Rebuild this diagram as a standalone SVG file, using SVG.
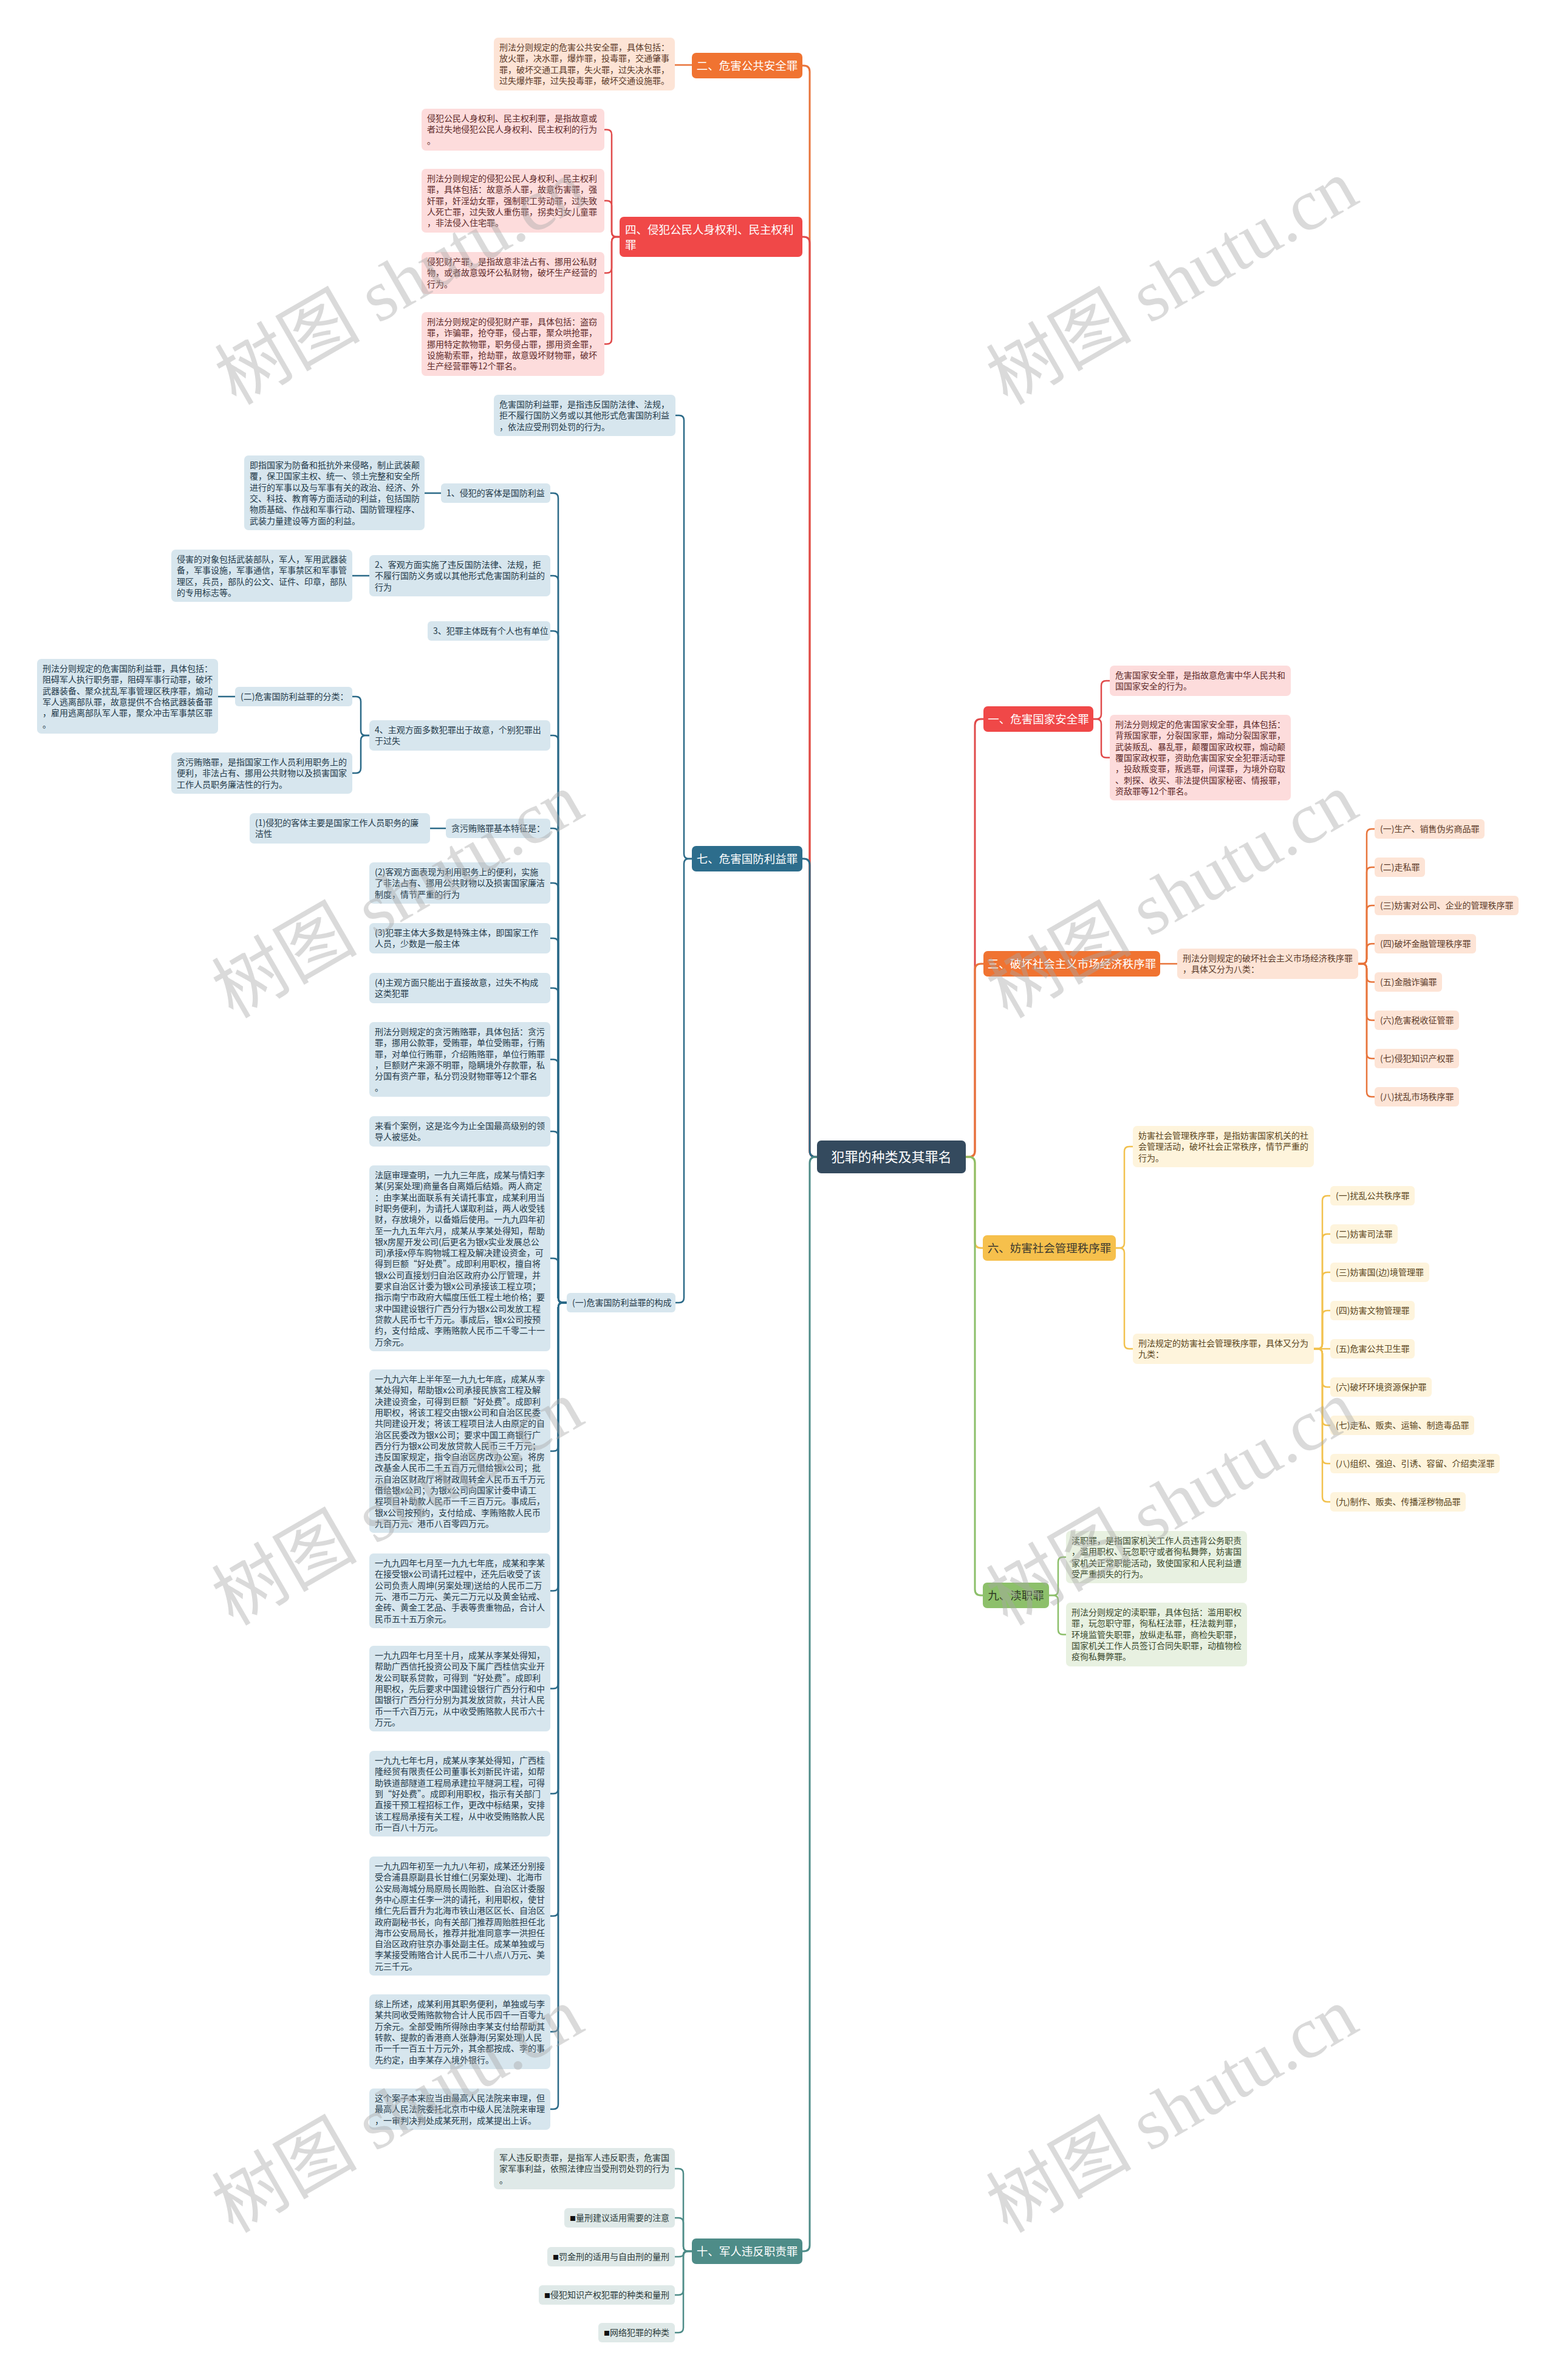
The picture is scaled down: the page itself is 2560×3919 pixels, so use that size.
<svg xmlns="http://www.w3.org/2000/svg" width="2560" height="3919" viewBox="0 0 2560 3919">
<style>
text{font-family:"Noto Sans CJK SC","Liberation Sans",sans-serif;}
.t{font-size:14px;}
.h{font-size:18.5px;}
.c{font-size:22px;fill:#fff;}
.w{fill:#fff;}
.ln{fill:none;stroke-width:2.5;stroke-linecap:round;}
.tr{fill:none;stroke-width:3;}
.o{stroke:#e8743b;} .r{stroke:#e04a4a;} .b{stroke:#2b6a88;} .g{stroke:#4e8c88;} .y{stroke:#f2c14e;} .gr{stroke:#8cbf6a;}
.bo{fill:#fde4d6;} .bp{fill:#fddcdc;} .bb{fill:#d7e6ee;} .bg{fill:#dfe9e8;} .by{fill:#fef4dc;} .bgr{fill:#e8f1e1;}
.to{fill:#5b3a29;} .tp{fill:#5e2a2a;} .tb{fill:#243a4a;} .tg{fill:#2a3a3a;} .ty{fill:#5a4520;} .tgr{fill:#3a4a2e;}
.wm{font-family:"Liberation Serif","Noto Sans CJK SC",serif;font-size:120px;fill:#a8a8a8;fill-opacity:0.42;}
</style>

<g id="connectors">
<!-- left trunk -->
<path class="tr o" d="M1345,1905 H1343 Q1333,1905 1333,1895 V118 Q1333,108 1323,108 H1321"/>
<path class="tr r" d="M1345,1905 H1343 Q1333,1905 1333,1895 V400 Q1333,390 1323,390 H1321"/>
<path class="tr b" d="M1345,1905 H1343 Q1333,1905 1333,1895 V1424 Q1333,1414 1323,1414 H1321"/>
<path class="tr g" d="M1345,1905 H1343 Q1333,1905 1333,1915 V3697 Q1333,3707 1323,3707 H1321"/>
<!-- right trunk -->
<path class="tr r" d="M1590,1905 H1595 Q1605,1905 1605,1895 V1194 Q1605,1184 1615,1184 H1619"/>
<path class="tr o" d="M1590,1905 H1595 Q1605,1905 1605,1895 V1597 Q1605,1587 1615,1587 H1619"/>
<path class="tr y" d="M1590,1905 H1595 Q1605,1905 1605,1915 V2045 Q1605,2055 1615,2055 H1619"/>
<path class="tr gr" d="M1590,1905 H1595 Q1605,1905 1605,1915 V2617 Q1605,2627 1615,2627 H1619"/>
<!-- 二 -->
<path class="ln o" d="M1139,107 H1111"/>
<!-- 四 -->
<path class="ln r" d="M1020,390 H1015 Q1007,390 1007,382 V221.5 Q1007,213.5 999,213.5 H995"/>
<path class="ln r" d="M1020,390 H1015 Q1007,390 1007,382 V338.5 Q1007,330.5 999,330.5 H995"/>
<path class="ln r" d="M1020,390 H1015 Q1007,390 1007,398 V441.5 Q1007,449.5 999,449.5 H995"/>
<path class="ln r" d="M1020,390 H1015 Q1007,390 1007,398 V558.5 Q1007,566.5 999,566.5 H995"/>
<!-- 七 -->
<path class="ln b" d="M1139,1414 H1134 Q1126,1414 1126,1406 V692 Q1126,684 1118,684 H1112"/>
<path class="ln b" d="M1139,1414 H1134 Q1126,1414 1126,1422 V2137 Q1126,2145 1118,2145 H1112"/>
<!-- (一) children -->
<path class="ln b" d="M933,2145 H927 Q919,2145 919,2137 V820 Q919,812 911,812 H906"/>
<path class="ln b" d="M933,2145 H927 Q919,2145 919,2137 V956 Q919,948 911,948 H906"/>
<path class="ln b" d="M933,2145 H927 Q919,2145 919,2137 V1047 Q919,1039 911,1039 H906"/>
<path class="ln b" d="M933,2145 H927 Q919,2145 919,2137 V1219 Q919,1211 911,1211 H906"/>
<path class="ln b" d="M933,2145 H927 Q919,2145 919,2137 V1372 Q919,1364 911,1364 H906"/>
<path class="ln b" d="M933,2145 H927 Q919,2145 919,2137 V1462 Q919,1454 911,1454 H906"/>
<path class="ln b" d="M933,2145 H927 Q919,2145 919,2137 V1553 Q919,1545 911,1545 H906"/>
<path class="ln b" d="M933,2145 H927 Q919,2145 919,2137 V1635 Q919,1627 911,1627 H906"/>
<path class="ln b" d="M933,2145 H927 Q919,2145 919,2137 V1752.5 Q919,1744.5 911,1744.5 H906"/>
<path class="ln b" d="M933,2145 H927 Q919,2145 919,2137 V1871 Q919,1863 911,1863 H906"/>
<path class="ln b" d="M933,2145 H927 Q919,2145 919,2137 V2080 Q919,2072 911,2072 H906"/>
<path class="ln b" d="M933,2145 H927 Q919,2145 919,2153 V2381.6 Q919,2389.6 911,2389.6 H906"/>
<path class="ln b" d="M933,2145 H927 Q919,2145 919,2153 V2611.5 Q919,2619.5 911,2619.5 H906"/>
<path class="ln b" d="M933,2145 H927 Q919,2145 919,2153 V2772.5 Q919,2780.5 911,2780.5 H906"/>
<path class="ln b" d="M933,2145 H927 Q919,2145 919,2153 V2945.5 Q919,2953.5 911,2953.5 H906"/>
<path class="ln b" d="M933,2145 H927 Q919,2145 919,2153 V3147 Q919,3155 911,3155 H906"/>
<path class="ln b" d="M933,2145 H927 Q919,2145 919,2153 V3337.5 Q919,3345.5 911,3345.5 H906"/>
<path class="ln b" d="M933,2145 H927 Q919,2145 919,2153 V3465 Q919,3473 911,3473 H906"/>
<!-- sub connectors -->
<path class="ln b" d="M726,812 H699"/>
<path class="ln b" d="M608,948 H580"/>
<path class="ln b" d="M608,1211 H602 Q594,1211 594,1203 V1155 Q594,1147 586,1147 H580"/>
<path class="ln b" d="M608,1211 H602 Q594,1211 594,1219 V1265 Q594,1273 586,1273 H580"/>
<path class="ln b" d="M387,1147 H359"/>
<path class="ln b" d="M734,1364 H708"/>
<!-- 十 -->
<path class="ln g" d="M1139,3707 H1133 Q1125,3707 1125,3699 V3579 Q1125,3571 1117,3571 H1111"/>
<path class="ln g" d="M1139,3707 H1133 Q1125,3707 1125,3699 V3660 Q1125,3652 1117,3652 H1111"/>
<path class="ln g" d="M1139,3707 H1133 Q1125,3707 1125,3711.5 Q1125,3716 1117,3716 H1111"/>
<path class="ln g" d="M1139,3707 H1133 Q1125,3707 1125,3715 V3771 Q1125,3779 1117,3779 H1111"/>
<path class="ln g" d="M1139,3707 H1133 Q1125,3707 1125,3715 V3833 Q1125,3841 1117,3841 H1111"/>
<!-- 一 -->
<path class="ln r" d="M1800,1184 H1805 Q1813,1184 1813,1176 V1129 Q1813,1121 1821,1121 H1827"/>
<path class="ln r" d="M1800,1184 H1805 Q1813,1184 1813,1192 V1239.5 Q1813,1247.5 1821,1247.5 H1827"/>
<!-- 三 -->
<path class="ln o" d="M1910,1587 H1938"/>
<path class="ln o" d="M2236,1587 H2242 Q2250,1587 2250,1579 V1373 Q2250,1365 2258,1365 H2263"/>
<path class="ln o" d="M2236,1587 H2242 Q2250,1587 2250,1579 V1436 Q2250,1428 2258,1428 H2263"/>
<path class="ln o" d="M2236,1587 H2242 Q2250,1587 2250,1579 V1499 Q2250,1491 2258,1491 H2263"/>
<path class="ln o" d="M2236,1587 H2242 Q2250,1587 2250,1579 V1562 Q2250,1554 2258,1554 H2263"/>
<path class="ln o" d="M2236,1587 H2242 Q2250,1587 2250,1595 V1609 Q2250,1617 2258,1617 H2263"/>
<path class="ln o" d="M2236,1587 H2242 Q2250,1587 2250,1595 V1672 Q2250,1680 2258,1680 H2263"/>
<path class="ln o" d="M2236,1587 H2242 Q2250,1587 2250,1595 V1735 Q2250,1743 2258,1743 H2263"/>
<path class="ln o" d="M2236,1587 H2242 Q2250,1587 2250,1595 V1798 Q2250,1806 2258,1806 H2263"/>
<!-- 六 -->
<path class="ln y" d="M1837,2055 H1843 Q1851,2055 1851,2047 V1896 Q1851,1888 1859,1888 H1865"/>
<path class="ln y" d="M1837,2055 H1843 Q1851,2055 1851,2063 V2213 Q1851,2221 1859,2221 H1865"/>
<path class="ln y" d="M2163,2221 H2169 Q2177,2221 2177,2213 V1977 Q2177,1969 2185,1969 H2190"/>
<path class="ln y" d="M2163,2221 H2169 Q2177,2221 2177,2213 V2040 Q2177,2032 2185,2032 H2190"/>
<path class="ln y" d="M2163,2221 H2169 Q2177,2221 2177,2213 V2103 Q2177,2095 2185,2095 H2190"/>
<path class="ln y" d="M2163,2221 H2169 Q2177,2221 2177,2213 V2166 Q2177,2158 2185,2158 H2190"/>
<path class="ln y" d="M2163,2221 H2190"/>
<path class="ln y" d="M2163,2221 H2169 Q2177,2221 2177,2229 V2276 Q2177,2284 2185,2284 H2190"/>
<path class="ln y" d="M2163,2221 H2169 Q2177,2221 2177,2229 V2339 Q2177,2347 2185,2347 H2190"/>
<path class="ln y" d="M2163,2221 H2169 Q2177,2221 2177,2229 V2402 Q2177,2410 2185,2410 H2190"/>
<path class="ln y" d="M2163,2221 H2169 Q2177,2221 2177,2229 V2465 Q2177,2473 2185,2473 H2190"/>
<!-- 九 -->
<path class="ln gr" d="M1727,2627 H1734 Q1742,2627 1742,2619 V2572 Q1742,2564 1750,2564 H1755"/>
<path class="ln gr" d="M1727,2627 H1734 Q1742,2627 1742,2635 V2683.5 Q1742,2691.5 1750,2691.5 H1755"/>
</g>

<g id="center"><rect x="1345" y="1878" width="245" height="54" rx="7" fill="#344a5e"/><text class="c" x="1467.5" y="1913" text-anchor="middle">犯罪的种类及其罪名</text></g>

<!-- 二 -->
<g id="n2"><rect x="1139" y="87" width="182" height="42" rx="7" fill="#f07331"/><text class="h w" x="1230" y="115" text-anchor="middle">二、危害公共安全罪</text></g>
<g id="n2a"><rect class="bo" x="813" y="62" width="298" height="87" rx="7"/><text class="t to"><tspan x="822" y="83">刑法分则规定的危害公共安全罪，具体包括：</tspan><tspan x="822" y="101.3">放火罪，决水罪，爆炸罪，投毒罪，交通肇事</tspan><tspan x="822" y="119.6">罪，破坏交通工具罪，失火罪，过失决水罪，</tspan><tspan x="822" y="137.9">过失爆炸罪，过失投毒罪，破坏交通设施罪。</tspan></text></g>

<!-- 四 -->
<g id="n4"><rect x="1020" y="357" width="301" height="66" rx="7" fill="#f04848"/><text class="h w"><tspan x="1029" y="384.5">四、侵犯公民人身权利、民主权利</tspan><tspan x="1029" y="409.5">罪</tspan></text></g>
<g id="n4a"><rect class="bp" x="694" y="179" width="301" height="69" rx="7"/><text class="t tp"><tspan x="703" y="200">侵犯公民人身权利、民主权利罪，是指故意或</tspan><tspan x="703" y="218.3">者过失地侵犯公民人身权利、民主权利的行为</tspan><tspan x="703" y="236.6">。</tspan></text></g>
<g id="n4b"><rect class="bp" x="694" y="278" width="301" height="105" rx="7"/><text class="t tp"><tspan x="703" y="299">刑法分则规定的侵犯公民人身权利、民主权利</tspan><tspan x="703" y="317.3">罪，具体包括：故意杀人罪，故意伤害罪，强</tspan><tspan x="703" y="335.6">奸罪，奸淫幼女罪，强制职工劳动罪，过失致</tspan><tspan x="703" y="353.9">人死亡罪，过失致人重伤罪，拐卖妇女儿童罪</tspan><tspan x="703" y="372.2">，非法侵入住宅罪。</tspan></text></g>
<g id="n4c"><rect class="bp" x="694" y="415" width="301" height="69" rx="7"/><text class="t tp"><tspan x="703" y="436">侵犯财产罪，是指故意非法占有、挪用公私财</tspan><tspan x="703" y="454.3">物，或者故意毁坏公私财物，破坏生产经营的</tspan><tspan x="703" y="472.6">行为。</tspan></text></g>
<g id="n4d"><rect class="bp" x="694" y="514" width="301" height="105" rx="7"/><text class="t tp"><tspan x="703" y="535">刑法分则规定的侵犯财产罪，具体包括：盗窃</tspan><tspan x="703" y="553.3">罪，诈骗罪，抢夺罪，侵占罪，聚众哄抢罪，</tspan><tspan x="703" y="571.6">挪用特定款物罪，职务侵占罪，挪用资金罪，</tspan><tspan x="703" y="589.9">设施勒索罪，抢劫罪，故意毁坏财物罪，破坏</tspan><tspan x="703" y="608.2">生产经营罪等12个罪名。</tspan></text></g>

<!-- 七 -->
<g id="n7"><rect x="1139" y="1393" width="182" height="42" rx="7" fill="#2d6d8c"/><text class="h w" x="1230" y="1421" text-anchor="middle">七、危害国防利益罪</text></g>
<g id="n7a"><rect class="bb" x="813" y="650" width="299" height="68" rx="7"/><text class="t tb"><tspan x="822" y="671">危害国防利益罪，是指违反国防法律、法规，</tspan><tspan x="822" y="689.3">拒不履行国防义务或以其他形式危害国防利益</tspan><tspan x="822" y="707.6">，依法应受刑罚处罚的行为。</tspan></text></g>
<g id="n7b"><rect class="bb" x="933" y="2129" width="179" height="32" rx="6"/><text class="t tb" x="942" y="2150">(一)危害国防利益罪的构成</text></g>
<g id="k1"><rect class="bb" x="726" y="796" width="180" height="32" rx="6"/><text class="t tb" x="735" y="817">1、侵犯的客体是国防利益</text></g>
<g id="k1a"><rect class="bb" x="402" y="750" width="297" height="123" rx="7"/><text class="t tb"><tspan x="411" y="771">即指国家为防备和抵抗外来侵略，制止武装颠</tspan><tspan x="411" y="789.3">覆，保卫国家主权、统一、领土完整和安全所</tspan><tspan x="411" y="807.6">进行的军事以及与军事有关的政治、经济、外</tspan><tspan x="411" y="825.9">交、科技、教育等方面活动的利益，包括国防</tspan><tspan x="411" y="844.2">物质基础、作战和军事行动、国防管理程序、</tspan><tspan x="411" y="862.5">武装力量建设等方面的利益。</tspan></text></g>
<g id="k2"><rect class="bb" x="608" y="914" width="298" height="68" rx="7"/><text class="t tb"><tspan x="617" y="935">2、客观方面实施了违反国防法律、法规，拒</tspan><tspan x="617" y="953.3">不履行国防义务或以其他形式危害国防利益的</tspan><tspan x="617" y="971.6">行为</tspan></text></g>
<g id="k2a"><rect class="bb" x="282" y="905" width="298" height="86" rx="7"/><text class="t tb"><tspan x="291" y="926">侵害的对象包括武装部队，军人，军用武器装</tspan><tspan x="291" y="944.3">备，军事设施，军事通信，军事禁区和军事管</tspan><tspan x="291" y="962.6">理区，兵员，部队的公文、证件、印章，部队</tspan><tspan x="291" y="980.9">的专用标志等。</tspan></text></g>
<g id="k3"><rect class="bb" x="704" y="1023" width="202" height="32" rx="6"/><text class="t tb" x="713" y="1044">3、犯罪主体既有个人也有单位</text></g>
<g id="k4"><rect class="bb" x="608" y="1186" width="298" height="50" rx="7"/><text class="t tb"><tspan x="617" y="1207">4、主观方面多数犯罪出于故意，个别犯罪出</tspan><tspan x="617" y="1225.3">于过失</tspan></text></g>
<g id="k4a"><rect class="bb" x="387" y="1131" width="193" height="32" rx="6"/><text class="t tb" x="396" y="1152">(二)危害国防利益罪的分类：</text></g>
<g id="k4a1"><rect class="bb" x="61" y="1085" width="298" height="123" rx="7"/><text class="t tb"><tspan x="70" y="1106">刑法分则规定的危害国防利益罪，具体包括：</tspan><tspan x="70" y="1124.3">阻碍军人执行职务罪，阻碍军事行动罪，破坏</tspan><tspan x="70" y="1142.6">武器装备、聚众扰乱军事管理区秩序罪，煽动</tspan><tspan x="70" y="1160.9">军人逃离部队罪，故意提供不合格武器装备罪</tspan><tspan x="70" y="1179.2">，雇用逃离部队军人罪，聚众冲击军事禁区罪</tspan><tspan x="70" y="1197.5">。</tspan></text></g>
<g id="k4b"><rect class="bb" x="282" y="1239" width="298" height="68" rx="7"/><text class="t tb"><tspan x="291" y="1260">贪污贿赂罪，是指国家工作人员利用职务上的</tspan><tspan x="291" y="1278.3">便利，非法占有、挪用公共财物以及损害国家</tspan><tspan x="291" y="1296.6">工作人员职务廉洁性的行为。</tspan></text></g>
<g id="k5"><rect class="bb" x="734" y="1348" width="172" height="32" rx="6"/><text class="t tb" x="743" y="1369">贪污贿赂罪基本特征是：</text></g>
<g id="k5a"><rect class="bb" x="411" y="1339" width="297" height="50" rx="7"/><text class="t tb"><tspan x="420" y="1360">(1)侵犯的客体主要是国家工作人员职务的廉</tspan><tspan x="420" y="1378.3">洁性</tspan></text></g>
<g id="k6"><rect class="bb" x="608" y="1420" width="298" height="68" rx="7"/><text class="t tb"><tspan x="617" y="1441">(2)客观方面表现为利用职务上的便利，实施</tspan><tspan x="617" y="1459.3">了非法占有、挪用公共财物以及损害国家廉洁</tspan><tspan x="617" y="1477.6">制度，情节严重的行为</tspan></text></g>
<g id="k7"><rect class="bb" x="608" y="1520" width="298" height="50" rx="7"/><text class="t tb"><tspan x="617" y="1541">(3)犯罪主体大多数是特殊主体，即国家工作</tspan><tspan x="617" y="1559.3">人员，少数是一般主体</tspan></text></g>
<g id="k8"><rect class="bb" x="608" y="1602" width="298" height="50" rx="7"/><text class="t tb"><tspan x="617" y="1623">(4)主观方面只能出于直接故意，过失不构成</tspan><tspan x="617" y="1641.3">这类犯罪</tspan></text></g>
<g id="k9"><rect class="bb" x="608" y="1683" width="298" height="123" rx="7"/><text class="t tb"><tspan x="617" y="1704">刑法分则规定的贪污贿赂罪，具体包括：贪污</tspan><tspan x="617" y="1722.3">罪，挪用公款罪，受贿罪，单位受贿罪，行贿</tspan><tspan x="617" y="1740.6">罪，对单位行贿罪，介绍贿赂罪，单位行贿罪</tspan><tspan x="617" y="1758.9">，巨额财产来源不明罪，隐瞒境外存款罪，私</tspan><tspan x="617" y="1777.2">分国有资产罪，私分罚没财物罪等12个罪名</tspan><tspan x="617" y="1795.5">。</tspan></text></g>
<g id="k10"><rect class="bb" x="608" y="1838" width="298" height="50" rx="7"/><text class="t tb"><tspan x="617" y="1859">来看个案例，这是迄今为止全国最高级别的领</tspan><tspan x="617" y="1877.3">导人被惩处。</tspan></text></g>
<g id="k11"><rect class="bb" x="608" y="1919" width="298" height="306" rx="7"/><text class="t tb"><tspan x="617" y="1940">法庭审理查明，一九九三年底，成某与情妇李</tspan><tspan x="617" y="1958.3">某(另案处理)商量各自离婚后结婚。两人商定</tspan><tspan x="617" y="1976.6">：由李某出面联系有关请托事宜，成某利用当</tspan><tspan x="617" y="1994.9">时职务便利，为请托人谋取利益，两人收受钱</tspan><tspan x="617" y="2013.2">财，存放境外，以备婚后使用。一九九四年初</tspan><tspan x="617" y="2031.5">至一九九五年六月，成某从李某处得知，帮助</tspan><tspan x="617" y="2049.8">银x房屋开发公司(后更名为银x实业发展总公</tspan><tspan x="617" y="2068.1">司)承接x停车购物城工程及解决建设资金，可</tspan><tspan x="617" y="2086.4">得到巨额“好处费”。成即利用职权，擅自将</tspan><tspan x="617" y="2104.7">银x公司直接划归自治区政府办公厅管理，并</tspan><tspan x="617" y="2123">要求自治区计委为银x公司承接该工程立项；</tspan><tspan x="617" y="2141.3">指示南宁市政府大幅度压低工程土地价格；要</tspan><tspan x="617" y="2159.6">求中国建设银行广西分行为银x公司发放工程</tspan><tspan x="617" y="2177.9">贷款人民币七千万元。事成后，银x公司按预</tspan><tspan x="617" y="2196.2">约，支付给成、李贿赂款人民币二千零二十一</tspan><tspan x="617" y="2214.5">万余元。</tspan></text></g>
<g id="k12"><rect class="bb" x="608" y="2255" width="298" height="269" rx="7"/><text class="t tb"><tspan x="617" y="2276">一九九六年上半年至一九九七年底，成某从李</tspan><tspan x="617" y="2294.3">某处得知，帮助银x公司承接民族宫工程及解</tspan><tspan x="617" y="2312.6">决建设资金，可得到巨额“好处费”。成即利</tspan><tspan x="617" y="2330.9">用职权，将该工程交由银x公司和自治区民委</tspan><tspan x="617" y="2349.2">共同建设开发；将该工程项目法人由原定的自</tspan><tspan x="617" y="2367.5">治区民委改为银x公司；要求中国工商银行广</tspan><tspan x="617" y="2385.8">西分行为银x公司发放贷款人民币三千万元；</tspan><tspan x="617" y="2404.1">违反国家规定，指令自治区房改办公室，将房</tspan><tspan x="617" y="2422.4">改基金人民币二千五百万元借给银x公司；批</tspan><tspan x="617" y="2440.7">示自治区财政厅将财政周转金人民币五千万元</tspan><tspan x="617" y="2459">借给银x公司；为银x公司向国家计委申请工</tspan><tspan x="617" y="2477.3">程项目补助款人民币一千三百万元。事成后，</tspan><tspan x="617" y="2495.6">银x公司按预约，支付给成、李贿赂款人民币</tspan><tspan x="617" y="2513.9">九百万元、港币八百零四万元。</tspan></text></g>
<g id="k13"><rect class="bb" x="608" y="2558" width="298" height="123" rx="7"/><text class="t tb"><tspan x="617" y="2579">一九九四年七月至一九九七年底，成某和李某</tspan><tspan x="617" y="2597.3">在接受银x公司请托过程中，还先后收受了该</tspan><tspan x="617" y="2615.6">公司负责人周坤(另案处理)送给的人民币二万</tspan><tspan x="617" y="2633.9">元、港币二万元、美元二万元以及黄金钻戒、</tspan><tspan x="617" y="2652.2">金砖、黄金工艺品、手表等贵重物品，合计人</tspan><tspan x="617" y="2670.5">民币五十五万余元。</tspan></text></g>
<g id="k14"><rect class="bb" x="608" y="2710" width="298" height="141" rx="7"/><text class="t tb"><tspan x="617" y="2731">一九九四年七月至十月，成某从李某处得知，</tspan><tspan x="617" y="2749.3">帮助广西信托投资公司及下属广西桂信实业开</tspan><tspan x="617" y="2767.6">发公司联系贷款，可得到“好处费”。成即利</tspan><tspan x="617" y="2785.9">用职权，先后要求中国建设银行广西分行和中</tspan><tspan x="617" y="2804.2">国银行广西分行分别为其发放贷款，共计人民</tspan><tspan x="617" y="2822.5">币一千六百万元，从中收受贿赂款人民币六十</tspan><tspan x="617" y="2840.8">万元。</tspan></text></g>
<g id="k15"><rect class="bb" x="608" y="2883" width="298" height="141" rx="7"/><text class="t tb"><tspan x="617" y="2904">一九九七年七月，成某从李某处得知，广西桂</tspan><tspan x="617" y="2922.3">隆经贸有限责任公司董事长刘新民许诺，如帮</tspan><tspan x="617" y="2940.6">助铁道部隧道工程局承建拉平隧洞工程，可得</tspan><tspan x="617" y="2958.9">到“好处费”。成即利用职权，指示有关部门</tspan><tspan x="617" y="2977.2">直接干预工程招标工作，更改中标结果，安排</tspan><tspan x="617" y="2995.5">该工程局承接有关工程，从中收受贿赂款人民</tspan><tspan x="617" y="3013.8">币一百八十万元。</tspan></text></g>
<g id="k16"><rect class="bb" x="608" y="3057" width="298" height="196" rx="7"/><text class="t tb"><tspan x="617" y="3078">一九九四年初至一九九八年初，成某还分别接</tspan><tspan x="617" y="3096.3">受合浦县原副县长甘维仁(另案处理)、北海市</tspan><tspan x="617" y="3114.6">公安局海城分局原局长周贻胜、自治区计委服</tspan><tspan x="617" y="3132.9">务中心原主任李一洪的请托，利用职权，使甘</tspan><tspan x="617" y="3151.2">维仁先后晋升为北海市铁山港区区长、自治区</tspan><tspan x="617" y="3169.5">政府副秘书长，向有关部门推荐周贻胜担任北</tspan><tspan x="617" y="3187.8">海市公安局局长，推荐并批准同意李一洪担任</tspan><tspan x="617" y="3206.1">自治区政府驻京办事处副主任。成某单独或与</tspan><tspan x="617" y="3224.4">李某接受贿赂合计人民币二十八点八万元、美</tspan><tspan x="617" y="3242.7">元三千元。</tspan></text></g>
<g id="k17"><rect class="bb" x="608" y="3284" width="298" height="123" rx="7"/><text class="t tb"><tspan x="617" y="3305">综上所述，成某利用其职务便利，单独或与李</tspan><tspan x="617" y="3323.3">某共同收受贿赂款物合计人民币四千一百零九</tspan><tspan x="617" y="3341.6">万余元。全部受贿所得除由李某支付给帮助其</tspan><tspan x="617" y="3359.9">转款、提款的香港商人张静海(另案处理)人民</tspan><tspan x="617" y="3378.2">币一千一百五十万元外，其余都按成、李的事</tspan><tspan x="617" y="3396.5">先约定，由李某存入境外银行。</tspan></text></g>
<g id="k18"><rect class="bb" x="608" y="3439" width="298" height="68" rx="7"/><text class="t tb"><tspan x="617" y="3460">这个案子本来应当由最高人民法院来审理，但</tspan><tspan x="617" y="3478.3">最高人民法院委托北京市中级人民法院来审理</tspan><tspan x="617" y="3496.6">，一审判决判处成某死刑，成某提出上诉。</tspan></text></g>

<!-- 十 -->
<g id="n10"><rect x="1139" y="3686" width="182" height="42" rx="7" fill="#4e8c88"/><text class="h w" x="1230" y="3714" text-anchor="middle">十、军人违反职责罪</text></g>
<g id="n10a"><rect class="bg" x="813" y="3537" width="298" height="68" rx="7"/><text class="t tg"><tspan x="822" y="3558">军人违反职责罪，是指军人违反职责，危害国</tspan><tspan x="822" y="3576.3">家军事利益，依照法律应当受刑罚处罚的行为</tspan><tspan x="822" y="3594.6">。</tspan></text></g>
<g id="n10b"><rect class="bg" x="929" y="3636" width="182" height="32" rx="6"/><text class="t tg" x="938" y="3657"><tspan font-size="10" fill="#111">■</tspan>量刑建议适用需要的注意</text></g>
<g id="n10c"><rect class="bg" x="901" y="3700" width="210" height="32" rx="6"/><text class="t tg" x="910" y="3721"><tspan font-size="10" fill="#111">■</tspan>罚金刑的适用与自由刑的量刑</text></g>
<g id="n10d"><rect class="bg" x="887" y="3763" width="224" height="32" rx="6"/><text class="t tg" x="896" y="3784"><tspan font-size="10" fill="#111">■</tspan>侵犯知识产权犯罪的种类和量刑</text></g>
<g id="n10e"><rect class="bg" x="985" y="3825" width="126" height="32" rx="6"/><text class="t tg" x="994" y="3846"><tspan font-size="10" fill="#111">■</tspan>网络犯罪的种类</text></g>

<!-- 一 -->
<g id="n1"><rect x="1619" y="1163" width="181" height="42" rx="7" fill="#f04848"/><text class="h w" x="1709.5" y="1191" text-anchor="middle">一、危害国家安全罪</text></g>
<g id="n1a"><rect class="bp" x="1827" y="1096" width="298" height="50" rx="7"/><text class="t tp"><tspan x="1836" y="1117">危害国家安全罪，是指故意危害中华人民共和</tspan><tspan x="1836" y="1135.3">国国家安全的行为。</tspan></text></g>
<g id="n1b"><rect class="bp" x="1827" y="1177" width="298" height="141" rx="7"/><text class="t tp"><tspan x="1836" y="1198">刑法分则规定的危害国家安全罪，具体包括：</tspan><tspan x="1836" y="1216.3">背叛国家罪，分裂国家罪，煽动分裂国家罪，</tspan><tspan x="1836" y="1234.6">武装叛乱、暴乱罪，颠覆国家政权罪，煽动颠</tspan><tspan x="1836" y="1252.9">覆国家政权罪，资助危害国家安全犯罪活动罪</tspan><tspan x="1836" y="1271.2">，投敌叛变罪，叛逃罪，间谍罪，为境外窃取</tspan><tspan x="1836" y="1289.5">、刺探、收买、非法提供国家秘密、情报罪，</tspan><tspan x="1836" y="1307.8">资敌罪等12个罪名。</tspan></text></g>

<!-- 三 -->
<g id="n3"><rect x="1619" y="1566" width="291" height="42" rx="7" fill="#f07331"/><text class="h w" x="1764.5" y="1594" text-anchor="middle">三、破坏社会主义市场经济秩序罪</text></g>
<g id="n3a"><rect class="bo" x="1938" y="1562" width="298" height="50" rx="7"/><text class="t to"><tspan x="1947" y="1583">刑法分则规定的破坏社会主义市场经济秩序罪</tspan><tspan x="1947" y="1601.3">，具体又分为八类：</tspan></text></g>
<g id="n3b1"><rect class="bo" x="2263" y="1349" width="181" height="32" rx="6"/><text class="t to" x="2272" y="1370">(一)生产、销售伪劣商品罪</text></g>
<g id="n3b2"><rect class="bo" x="2263" y="1412" width="83" height="32" rx="6"/><text class="t to" x="2272" y="1433">(二)走私罪</text></g>
<g id="n3b3"><rect class="bo" x="2263" y="1475" width="237" height="32" rx="6"/><text class="t to" x="2272" y="1496">(三)妨害对公司、企业的管理秩序罪</text></g>
<g id="n3b4"><rect class="bo" x="2263" y="1538" width="167" height="32" rx="6"/><text class="t to" x="2272" y="1559">(四)破坏金融管理秩序罪</text></g>
<g id="n3b5"><rect class="bo" x="2263" y="1601" width="111" height="32" rx="6"/><text class="t to" x="2272" y="1622">(五)金融诈骗罪</text></g>
<g id="n3b6"><rect class="bo" x="2263" y="1664" width="139" height="32" rx="6"/><text class="t to" x="2272" y="1685">(六)危害税收征管罪</text></g>
<g id="n3b7"><rect class="bo" x="2263" y="1727" width="139" height="32" rx="6"/><text class="t to" x="2272" y="1748">(七)侵犯知识产权罪</text></g>
<g id="n3b8"><rect class="bo" x="2263" y="1790" width="139" height="32" rx="6"/><text class="t to" x="2272" y="1811">(八)扰乱市场秩序罪</text></g>

<!-- 六 -->
<g id="n6"><rect x="1618" y="2034" width="219" height="42" rx="7" fill="#f6c04c"/><text class="h" fill="#3d3a30" x="1727.5" y="2062" text-anchor="middle">六、妨害社会管理秩序罪</text></g>
<g id="n6a"><rect class="by" x="1865" y="1854" width="298" height="68" rx="7"/><text class="t ty"><tspan x="1874" y="1875">妨害社会管理秩序罪，是指妨害国家机关的社</tspan><tspan x="1874" y="1893.3">会管理活动，破坏社会正常秩序，情节严重的</tspan><tspan x="1874" y="1911.6">行为。</tspan></text></g>
<g id="n6b"><rect class="by" x="1865" y="2196" width="298" height="50" rx="7"/><text class="t ty"><tspan x="1874" y="2217">刑法规定的妨害社会管理秩序罪，具体又分为</tspan><tspan x="1874" y="2235.3">九类：</tspan></text></g>
<g id="n6c1"><rect class="by" x="2190" y="1953" width="139" height="32" rx="6"/><text class="t ty" x="2199" y="1974">(一)扰乱公共秩序罪</text></g>
<g id="n6c2"><rect class="by" x="2190" y="2016" width="111" height="32" rx="6"/><text class="t ty" x="2199" y="2037">(二)妨害司法罪</text></g>
<g id="n6c3"><rect class="by" x="2190" y="2079" width="163" height="32" rx="6"/><text class="t ty" x="2199" y="2100">(三)妨害国(边)境管理罪</text></g>
<g id="n6c4"><rect class="by" x="2190" y="2142" width="139" height="32" rx="6"/><text class="t ty" x="2199" y="2163">(四)妨害文物管理罪</text></g>
<g id="n6c5"><rect class="by" x="2190" y="2205" width="139" height="32" rx="6"/><text class="t ty" x="2199" y="2226">(五)危害公共卫生罪</text></g>
<g id="n6c6"><rect class="by" x="2190" y="2268" width="167" height="32" rx="6"/><text class="t ty" x="2199" y="2289">(六)破坏环境资源保护罪</text></g>
<g id="n6c7"><rect class="by" x="2190" y="2331" width="237" height="32" rx="6"/><text class="t ty" x="2199" y="2352">(七)走私、贩卖、运输、制造毒品罪</text></g>
<g id="n6c8"><rect class="by" x="2190" y="2394" width="279" height="32" rx="6"/><text class="t ty" x="2199" y="2415">(八)组织、强迫、引诱、容留、介绍卖淫罪</text></g>
<g id="n6c9"><rect class="by" x="2190" y="2457" width="223" height="32" rx="6"/><text class="t ty" x="2199" y="2478">(九)制作、贩卖、传播淫秽物品罪</text></g>

<!-- 九 -->
<g id="n9"><rect x="1618" y="2606" width="109" height="42" rx="7" fill="#8dc06b"/><text class="h" fill="#2f3a25" x="1672.5" y="2634" text-anchor="middle">九、渎职罪</text></g>
<g id="n9a"><rect class="bgr" x="1755" y="2521" width="298" height="86" rx="7"/><text class="t tgr"><tspan x="1764" y="2542">渎职罪，是指国家机关工作人员违背公务职责</tspan><tspan x="1764" y="2560.3">，滥用职权、玩忽职守或者徇私舞弊，妨害国</tspan><tspan x="1764" y="2578.6">家机关正常职能活动，致使国家和人民利益遭</tspan><tspan x="1764" y="2596.9">受严重损失的行为。</tspan></text></g>
<g id="n9b"><rect class="bgr" x="1755" y="2639" width="298" height="105" rx="7"/><text class="t tgr"><tspan x="1764" y="2660">刑法分则规定的渎职罪，具体包括：滥用职权</tspan><tspan x="1764" y="2678.3">罪，玩忽职守罪，徇私枉法罪，枉法裁判罪，</tspan><tspan x="1764" y="2696.6">环境监管失职罪，放纵走私罪，商检失职罪，</tspan><tspan x="1764" y="2714.9">国家机关工作人员签订合同失职罪，动植物检</tspan><tspan x="1764" y="2733.2">疫徇私舞弊罪。</tspan></text></g>

<g id="watermarks">
<text class="wm" transform="translate(680,500) rotate(-30)" text-anchor="middle">树图 shutu.cn</text>
<text class="wm" transform="translate(1950,500) rotate(-30)" text-anchor="middle">树图 shutu.cn</text>
<text class="wm" transform="translate(675,1510) rotate(-30)" text-anchor="middle">树图 shutu.cn</text>
<text class="wm" transform="translate(1950,1510) rotate(-30)" text-anchor="middle">树图 shutu.cn</text>
<text class="wm" transform="translate(675,2510) rotate(-30)" text-anchor="middle">树图 shutu.cn</text>
<text class="wm" transform="translate(1950,2510) rotate(-30)" text-anchor="middle">树图 shutu.cn</text>
<text class="wm" transform="translate(675,3510) rotate(-30)" text-anchor="middle">树图 shutu.cn</text>
<text class="wm" transform="translate(1950,3510) rotate(-30)" text-anchor="middle">树图 shutu.cn</text>
</g>
</svg>
